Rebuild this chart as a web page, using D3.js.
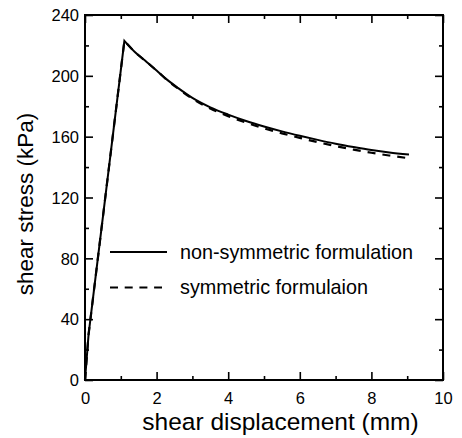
<!DOCTYPE html>
<html>
<head>
<meta charset="utf-8">
<script src="https://cdn.jsdelivr.net/npm/d3@7"></script>
<style>
  html, body { margin: 0; padding: 0; background: #fff; }
  svg { display: block; }
  text { font-family: "Liberation Sans", Arial, Helvetica, sans-serif; fill: #000; }
</style>
</head>
<body>
<svg id="chart" width="462" height="438"></svg>
<script>
// ---- data ----
const nonSymX = [0, 0.1, 1.1, 1.4, 1.73, 2.0, 2.29, 2.6, 3.0, 3.5, 4.0, 4.5, 5.0, 5.5, 6.0, 6.5, 7.0, 7.5, 8.0, 8.5, 9.05];
const nonSymY = [0, 30, 223, 215.5, 209, 203.5, 197.5, 192, 185.5, 179.3, 174.5, 170.3, 166.7, 163.5, 160.6, 157.9, 155.4, 153.2, 151.2, 149.6, 148.3];
const symX = [0, 0.1, 1.1, 1.4, 1.73, 2.0, 2.29, 2.6, 3.0, 3.5, 4.0, 4.5, 5.0, 5.5, 6.0, 6.5, 7.0, 7.5, 8.0, 8.5, 9.05];
const symY = [0, 30, 223, 215.5, 209, 203.5, 197.3, 191.6, 184.9, 178.5, 173.5, 169.2, 165.5, 162.2, 159.2, 156.4, 153.8, 151.5, 149.4, 147.6, 145.8];
const xMajorTicks = [0, 2, 4, 6, 8, 10];
const xMinorTicks = [1, 3, 5, 7, 9];
const yMajorTicks = [0, 40, 80, 120, 160, 200, 240];
const yMinorTicks = [20, 60, 100, 140, 180, 220];
const seriesNames = ["non-symmetric formulation", "symmetric formulaion"];
const xTitle = "shear displacement (mm)";
const yTitle = "shear stress (kPa)";

// ---- layout ----
const L = 85, R = 443, T = 15, B = 380;
const svg = d3.select("#chart");
const x = d3.scaleLinear().domain([0, 10]).range([L, R]);
const y = d3.scaleLinear().domain([0, 240]).range([B, T]);

const tickFont = 16.5;

// frame
svg.append("rect").attr("x", L).attr("y", T).attr("width", R - L).attr("height", B - T)
  .attr("fill", "none").attr("stroke", "#000").attr("stroke-width", 2);

function addAxis(axis, transform, showLabels) {
  const g = svg.append("g").attr("transform", transform).call(axis);
  g.select(".domain").remove();
  g.selectAll("line").attr("stroke", "#000").attr("stroke-width", 1.6);
  if (!showLabels) g.selectAll("text").remove();
  else g.selectAll("text").attr("font-size", tickFont).attr("font-family", null);
  return g;
}
// bottom
const gb = addAxis(d3.axisBottom(x).tickValues(xMajorTicks).tickFormat(d3.format("d")).tickSizeInner(-8),
  `translate(0,${B})`, true);
gb.selectAll("text").attr("y", 23.5).attr("dy", null);
addAxis(d3.axisBottom(x).tickValues(xMinorTicks).tickSizeInner(-4).tickFormat(""), `translate(0,${B})`, false);
// top
addAxis(d3.axisTop(x).tickValues(xMajorTicks).tickSizeInner(-8).tickFormat(""), `translate(0,${T})`, false);
addAxis(d3.axisTop(x).tickValues(xMinorTicks).tickSizeInner(-4).tickFormat(""), `translate(0,${T})`, false);
// left
const gl = addAxis(d3.axisLeft(y).tickValues(yMajorTicks).tickFormat(d3.format("d")).tickSizeInner(-8),
  `translate(${L},0)`, true);
gl.selectAll("text").attr("x", -6).attr("dy", "0.35em");
addAxis(d3.axisLeft(y).tickValues(yMinorTicks).tickSizeInner(-4).tickFormat(""), `translate(${L},0)`, false);
// right
addAxis(d3.axisRight(y).tickValues(yMajorTicks).tickSizeInner(-8).tickFormat(""), `translate(${R},0)`, false);
addAxis(d3.axisRight(y).tickValues(yMinorTicks).tickSizeInner(-4).tickFormat(""), `translate(${R},0)`, false);

// axis titles
svg.append("text").attr("x", (140 + 421) / 2).attr("y", 429.5).attr("text-anchor", "middle")
  .attr("font-size", 24.5).text(xTitle);
svg.append("text").attr("transform", `translate(33,${204}) rotate(-90)`).attr("text-anchor", "middle")
  .attr("font-size", 22.5).text(yTitle);

// curves: linear rise to the peak, smooth decay after it
const rise = d3.line().x(d => x(d[0])).y(d => y(d[1]));
const decay = d3.line().x(d => x(d[0])).y(d => y(d[1])).curve(d3.curveMonotoneX);
function drawSeries(xs, ys, dash, sw) {
  const data = xs.map((v, i) => [v, ys[i]]);
  const peak = d3.maxIndex(ys);
  const d = rise(data.slice(0, peak + 1)) + decay(data.slice(peak)).replace(/^M/, "L");
  svg.append("path").attr("d", d).attr("fill", "none").attr("stroke", "#000")
    .attr("stroke-width", sw).attr("stroke-dasharray", dash).attr("stroke-linejoin", "miter");
}
drawSeries(symX, symY, "8,7", 2.2);
drawSeries(nonSymX, nonSymY, null, 2);

// legend
const legendRows = [
  { name: seriesNames[0], dash: null, ly: 252, ty: 258.5 },
  { name: seriesNames[1], dash: "8,6.7", ly: 287.5, ty: 293.5 }
];
legendRows.forEach(r => {
  svg.append("line").attr("x1", 110).attr("x2", r.dash ? 162 : 167).attr("y1", r.ly).attr("y2", r.ly)
    .attr("stroke", "#000").attr("stroke-width", 2).attr("stroke-dasharray", r.dash);
  svg.append("text").attr("x", 180).attr("y", r.ty).attr("font-size", 19.8).text(r.name);
});
</script>
</body>
</html>
